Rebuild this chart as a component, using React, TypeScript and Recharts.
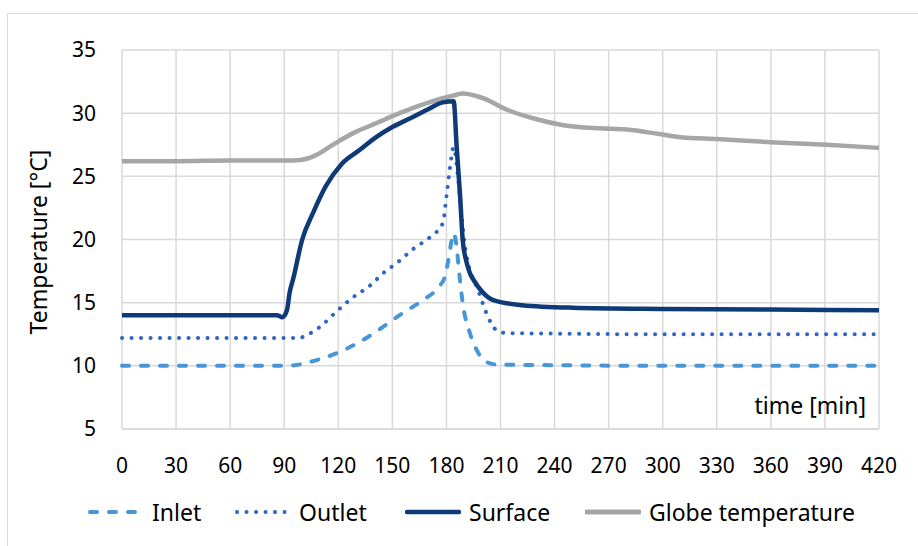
import { LineChart, Line, XAxis, YAxis, CartesianGrid } from "recharts";

const xTicks = [0, 30, 60, 90, 120, 150, 180, 210, 240, 270, 300, 330, 360, 390, 420];
const yTicks = [5, 10, 15, 20, 25, 30, 35];

const inletTime = [0, 30, 60, 90, 96, 104, 119, 132, 145, 156, 167, 176, 179, 181, 183, 184, 185.5, 187, 189, 193, 197, 201, 208, 240, 300, 360, 420];
const inletTemp = [10, 10, 10, 10, 10.05, 10.3, 11.0, 11.9, 13.1, 14.2, 15.2, 16.3, 17.0, 18.3, 20.0, 20.5, 19.6, 17.5, 15.0, 12.6, 11.2, 10.4, 10.1, 10.05, 10.0, 10.0, 10.0];

const outletTime = [0, 30, 60, 90, 98, 102, 110, 119, 128, 138, 145, 153, 162, 171, 178, 180, 182, 184, 186, 188, 190, 192, 194, 197, 200, 203, 208, 213, 240, 300, 360, 420];
const outletTemp = [12.2, 12.2, 12.2, 12.2, 12.2, 12.4, 13.1, 14.3, 15.4, 16.4, 17.35, 18.2, 19.3, 20.2, 21.3, 23.4, 25.7, 27.3, 25.5, 22.5, 19.8, 18.1, 17.2, 16.2, 15.0, 13.9, 12.8, 12.6, 12.55, 12.5, 12.5, 12.5];

const surfaceTime = [0, 30, 60, 86, 89, 91.5, 93, 95, 100, 106, 113, 122, 132, 141, 150, 160, 169, 178, 184, 185.7, 187.6, 189, 191, 193, 196, 199, 206, 222, 250, 300, 360, 420];
const surfaceTemp = [14, 14, 14, 14, 13.85, 14.4, 15.8, 16.9, 20.0, 22.1, 24.2, 26.0, 27.1, 28.1, 28.9, 29.6, 30.25, 30.85, 30.95, 27.3, 23.4, 20.0, 18.3, 17.35, 16.6, 16.0, 15.2, 14.8, 14.6, 14.5, 14.45, 14.4];

const globeTime = [0, 30, 60, 90, 99, 108, 117, 128, 141, 154, 169, 184, 189, 200, 214, 228, 245, 265, 280, 298, 310, 330, 360, 391, 420];
const globeTemp = [26.2, 26.2, 26.25, 26.25, 26.3, 26.7, 27.5, 28.4, 29.2, 30.0, 30.8, 31.4, 31.55, 31.2, 30.25, 29.6, 29.05, 28.8, 28.7, 28.35, 28.1, 27.95, 27.7, 27.5, 27.25];

const toRows = (times: number[], temps: number[]) =>
  times.map((t, i) => ({ t, v: temps[i] }));

const FONT = "'Noto Sans', sans-serif";
const colors = {
  inlet: "#4696D8",
  outlet: "#2F66C4",
  surface: "#0F3A78",
  globe: "#A6A6A6",
};

const legendItems = [
  { name: "Inlet", color: colors.inlet, dash: "7 12", width: 4, left: 88 },
  { name: "Outlet", color: colors.outlet, dash: "0.1 9.4", width: 4, left: 235 },
  { name: "Surface", color: colors.surface, dash: undefined, width: 4.5, left: 405 },
  { name: "Globe temperature", color: colors.globe, dash: undefined, width: 5, left: 585 },
];

export default function App() {
  return (
    <div
      style={{
        position: "absolute",
        left: 0,
        top: 0,
        width: 918,
        height: 546,
        overflow: "hidden",
        background: "#fff",
        fontFamily: FONT,
      }}
    >
      <div
        style={{
          position: "absolute",
          left: 7,
          top: 13,
          width: 940,
          height: 560,
          border: "1px solid #d9d9d9",
        }}
      />
      <LineChart
        width={918}
        height={546}
        margin={{ top: 50, right: 39, left: 0, bottom: 0 }}
        style={{ position: "absolute", left: 0, top: 0 }}
      >
        <CartesianGrid stroke="#d9d9d9" strokeWidth={1.5} />
        <XAxis
          type="number"
          dataKey="t"
          domain={[0, 420]}
          ticks={xTicks}
          interval={0}
          height={117}
          axisLine={{ stroke: "#d9d9d9", strokeWidth: 1.5 }}
          tickLine={false}
          tickSize={0}
          tickMargin={29}
          tick={{ fill: "#000", fontSize: 21, fontFamily: FONT }}
          allowDuplicatedCategory={false}
        />
        <YAxis
          type="number"
          domain={[5, 35]}
          ticks={yTicks}
          interval={0}
          width={122}
          axisLine={false}
          tickLine={false}
          tickSize={0}
          tickMargin={26}
          tick={{ fill: "#000", fontSize: 21, fontFamily: FONT }}
          label={{
            content: () => (
              <text
                x={38}
                y={242}
                transform="rotate(-90 38 242)"
                textAnchor="middle"
                dominantBaseline="central"
                fontSize={23}
                fontFamily={FONT}
                fill="#000"
              >
                Temperature [°C]
              </text>
            ),
          }}
        />
        <Line
          data={toRows(globeTime, globeTemp)}
          dataKey="v"
          type="monotone"
          stroke={colors.globe}
          strokeWidth={4.5}
          dot={false}
          isAnimationActive={false}
        />
        <Line
          data={toRows(inletTime, inletTemp)}
          dataKey="v"
          type="monotone"
          stroke={colors.inlet}
          strokeWidth={4}
          strokeDasharray="7 12"
          strokeLinecap="round"
          dot={false}
          isAnimationActive={false}
        />
        <Line
          data={toRows(outletTime, outletTemp)}
          dataKey="v"
          type="monotone"
          stroke={colors.outlet}
          strokeWidth={4}
          strokeDasharray="0.1 9.4"
          strokeLinecap="round"
          dot={false}
          isAnimationActive={false}
        />
        <Line
          data={toRows(surfaceTime, surfaceTemp)}
          dataKey="v"
          type="monotone"
          stroke={colors.surface}
          strokeWidth={4.5}
          dot={false}
          isAnimationActive={false}
        />
      </LineChart>
      <div
        style={{
          position: "absolute",
          right: 52,
          top: 390,
          fontSize: 23,
          color: "#000",
          lineHeight: "30px",
        }}
      >
        time [min]
      </div>
      {legendItems.map((item) => (
        <div
          key={item.name}
          style={{
            position: "absolute",
            left: item.left,
            top: 497,
            height: 30,
            display: "flex",
            alignItems: "center",
            fontSize: 23,
            color: "#000",
          }}
        >
          <svg width={56} height={10} style={{ marginRight: 8 }}>
            <line
              x1={2}
              y1={5}
              x2={54}
              y2={5}
              stroke={item.color}
              strokeWidth={item.width}
              strokeDasharray={item.dash}
              strokeLinecap="round"
            />
          </svg>
          <span>{item.name}</span>
        </div>
      ))}
    </div>
  );
}
